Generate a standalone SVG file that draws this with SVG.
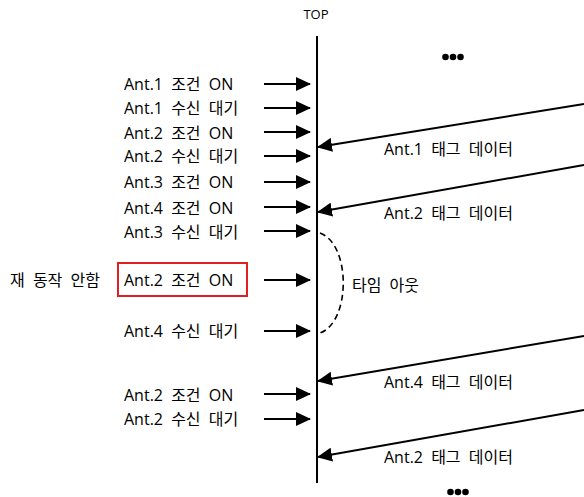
<svg xmlns="http://www.w3.org/2000/svg" width="584" height="497" viewBox="0 0 584 497">
  <style>
    text { font-family: "Open Sans", "Noto Sans CJK KR", sans-serif; font-size: 16px; fill: #000; word-spacing: 4px; }
    .in { stroke: #000; stroke-width: 2; fill: none; }
    .tag { stroke: #000; stroke-width: 2; fill: none; }
  </style>
  <defs>
    <marker id="head" viewBox="0 0 15 14" refX="14" refY="7" markerWidth="15" markerHeight="14" markerUnits="userSpaceOnUse" orient="auto">
      <path d="M0,0 L15,7 L0,14 Z" fill="#000"/>
    </marker>
  </defs>
  <rect width="584" height="497" fill="#fff"/>

  <!-- timeline -->
  <g id="timeline">
    <text x="316" y="19" text-anchor="middle" style="font-size:13px">TOP</text>
    <line x1="317" y1="36" x2="317" y2="483" stroke="#000" stroke-width="2"/>
  </g>

  <!-- events arriving at the timeline -->
  <g id="events">
    <text x="124" y="90">Ant.1 조건 ON</text>
    <text x="124" y="114">Ant.1 수신 대기</text>
    <text x="124" y="139">Ant.2 조건 ON</text>
    <text x="124" y="162">Ant.2 수신 대기</text>
    <text x="124" y="188">Ant.3 조건 ON</text>
    <text x="124" y="214">Ant.4 조건 ON</text>
    <text x="124" y="238">Ant.3 수신 대기</text>
    <text x="124" y="337">Ant.4 수신 대기</text>
    <text x="124" y="401">Ant.2 조건 ON</text>
    <text x="124" y="425">Ant.2 수신 대기</text>
  </g>

  <g id="retry">
    <rect x="118" y="263" width="129" height="33" fill="none" stroke="#e02020" stroke-width="2"/>
    <text x="124" y="286">Ant.2 조건 ON</text>
    <text x="10" y="286">재 동작 안함</text>
  </g>

  <g id="timeout">
    <path d="M320,233 C351,244 351,322 320,333" fill="none" stroke="#000" stroke-width="1.6" stroke-dasharray="6,4"/>
    <text x="352" y="291">타임 아웃</text>
  </g>

  <g id="tags">
    <text x="384" y="155">Ant.1 태그 데이터</text>
    <text x="384" y="219">Ant.2 태그 데이터</text>
    <text x="384" y="388">Ant.4 태그 데이터</text>
    <text x="384" y="463">Ant.2 태그 데이터</text>
  </g>

  <g id="more">
    <circle cx="445.5" cy="57" r="3.3"/>
    <circle cx="453" cy="57" r="3.3"/>
    <circle cx="460.5" cy="57" r="3.3"/>
    <circle cx="450.5" cy="492" r="3.3"/>
    <circle cx="458" cy="492" r="3.3"/>
    <circle cx="465.5" cy="492" r="3.3"/>
  </g>

  <!-- connectors -->
  <g id="connectors">
    <line class="in" x1="264" y1="84" x2="310" y2="84" marker-end="url(#head)"/>
    <line class="in" x1="264" y1="108" x2="310" y2="108" marker-end="url(#head)"/>
    <line class="in" x1="264" y1="132" x2="310" y2="132" marker-end="url(#head)"/>
    <line class="in" x1="264" y1="156" x2="310" y2="156" marker-end="url(#head)"/>
    <line class="in" x1="264" y1="182" x2="310" y2="182" marker-end="url(#head)"/>
    <line class="in" x1="264" y1="207" x2="310" y2="207" marker-end="url(#head)"/>
    <line class="in" x1="264" y1="231" x2="310" y2="231" marker-end="url(#head)"/>
    <line class="in" x1="264" y1="280" x2="310" y2="280" marker-end="url(#head)"/>
    <line class="in" x1="264" y1="331" x2="310" y2="331" marker-end="url(#head)"/>
    <line class="in" x1="264" y1="394" x2="310" y2="394" marker-end="url(#head)"/>
    <line class="in" x1="264" y1="419" x2="310" y2="419" marker-end="url(#head)"/>

    <line class="tag" x1="584" y1="104" x2="318" y2="147" marker-end="url(#head)"/>
    <line class="tag" x1="584" y1="165" x2="318" y2="212" marker-end="url(#head)"/>
    <line class="tag" x1="584" y1="336" x2="318" y2="381" marker-end="url(#head)"/>
    <line class="tag" x1="584" y1="410" x2="318" y2="457" marker-end="url(#head)"/>
  </g>
</svg>
